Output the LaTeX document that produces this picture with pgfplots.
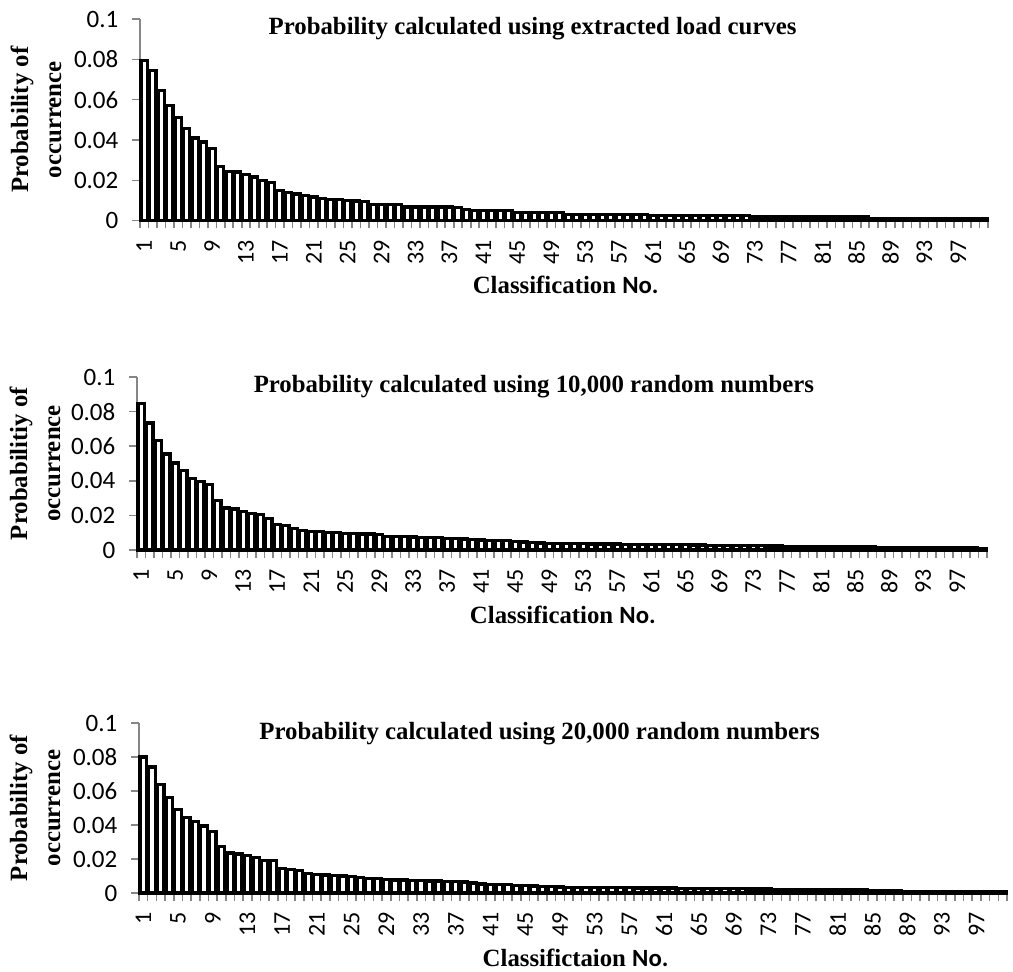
\documentclass[border=0pt]{standalone}
\usepackage{fontspec}
\setmainfont{Carlito}
\newfontfamily\tnr{Liberation Serif}
\usepackage{pgfplots}
\pgfplotsset{compat=1.18}
\definecolor{axgray}{RGB}{134,134,134}
\pgfplotsset{
  probstyle/.style={
    scale only axis,
    xmin=0.5, xmax=100.5, ymin=0, ymax=0.1,
    axis x line*=bottom, axis y line*=left,
    axis line style={draw=axgray, line width=1.1pt},
    ytick={0,0.02,0.04,0.06,0.08,0.1},
    yticklabels={0,0.02,0.04,0.06,0.08,0.1},
    xtick={0.5,1.5,...,100.5}, xticklabels={},
    extra x ticks={1,5,9,13,17,21,25,29,33,37,41,45,49,53,57,61,65,69,73,77,81,85,89,93,97},
    extra x tick labels={1,5,9,13,17,21,25,29,33,37,41,45,49,53,57,61,65,69,73,77,81,85,89,93,97},
    extra x tick style={tick style={draw=none}},
    tick align=outside,
    tick style={draw=axgray, line width=0.8pt},
    major tick length=3.8pt,
    yticklabel style={font=\fontsize{12.5}{14}\selectfont, xshift=-3.5pt},
    xticklabel style={font=\fontsize{12}{13}\selectfont, yshift=-2.5pt, rotate=90, anchor=east},
    ybar, bar width=0.75, clip=false,
    ylabel style={font=\tnr\bfseries\fontsize{12.4}{16.5}\selectfont, align=center, anchor=center},
    xlabel style={font=\bfseries\fontsize{12.4}{14}\selectfont, anchor=center},
    title style={font=\tnr\bfseries\fontsize{12.4}{14}\selectfont, anchor=center, yshift=-7pt},
  },
  probbar/.style={fill=white, draw=black, line width=1.65pt},
}
\begin{document}
\begin{tikzpicture}
\useasboundingbox (0,0) rectangle (506.5pt,485.5pt);
% ---------------- Chart 1
\begin{axis}[probstyle,
  at={(70pt,375.15pt)}, anchor=south west, width=424pt, height=100.85pt,
  title={Probability calculated using extracted load curves},
  title style={at={(axis description cs:0.463,0.96)}},
  ylabel={Probability of\\occurrence},
  ylabel style={at={(axis description cs:-0.1226,0.5)}},
  xlabel={{\tnr Classification }No.},
  xlabel style={at={(axis description cs:0.502,-0.319)}},
]
\addplot[probbar] coordinates {
(1,0.0793) (2,0.0745) (3,0.0645) (4,0.0570) (5,0.0512) (6,0.0456) (7,0.0410) (8,0.0390) (9,0.0358) (10,0.0267)
(11,0.0244) (12,0.0241) (13,0.0230) (14,0.0216) (15,0.0200) (16,0.0190) (17,0.0150) (18,0.0141) (19,0.0133) (20,0.0125)
(21,0.0117) (22,0.0110) (23,0.0106) (24,0.0106) (25,0.0099) (26,0.0098) (27,0.0095) (28,0.0082) (29,0.0080) (30,0.0080)
(31,0.0079) (32,0.0068) (33,0.0068) (34,0.0068) (35,0.0068) (36,0.0068) (37,0.0068) (38,0.0067) (39,0.0056) (40,0.0051)
(41,0.0051) (42,0.0051) (43,0.0051) (44,0.0050) (45,0.0040) (46,0.0040) (47,0.0040) (48,0.0040) (49,0.0040) (50,0.0040)
(51,0.0031) (52,0.0031) (53,0.0031) (54,0.0031) (55,0.0031) (56,0.0031) (57,0.0031) (58,0.0031) (59,0.0031) (60,0.0031)
(61,0.0026) (62,0.0026) (63,0.0026) (64,0.0026) (65,0.0026) (66,0.0026) (67,0.0026) (68,0.0026) (69,0.0026) (70,0.0026)
(71,0.0026) (72,0.0026) (73,0.0019) (74,0.0019) (75,0.0019) (76,0.0019) (77,0.0019) (78,0.0019) (79,0.0019) (80,0.0019)
(81,0.0019) (82,0.0019) (83,0.0019) (84,0.0019) (85,0.0019) (86,0.0019) (87,0.0011) (88,0.0011) (89,0.0011) (90,0.0011)
(91,0.0011) (92,0.0011) (93,0.0011) (94,0.0011) (95,0.0011) (96,0.0011) (97,0.0011) (98,0.0011) (99,0.0011) (100,0.0011)
};
\end{axis}
% ---------------- Chart 2
\begin{axis}[probstyle,
  at={(68.5pt,210.5pt)}, anchor=south west, width=425pt, height=86.5pt,
  title={Probability calculated using 10,000 random numbers},
  title style={at={(axis description cs:0.467,0.954)}},
  ylabel={Probabilitiy of\\occurrence},
  ylabel style={at={(axis description cs:-0.12,0.5)}},
  xlabel={{\tnr Classification }No.},
  xlabel style={at={(axis description cs:0.501,-0.376)}},
]
\addplot[probbar] coordinates {
(1,0.0848) (2,0.0734) (3,0.0634) (4,0.0555) (5,0.0503) (6,0.0459) (7,0.0412) (8,0.0397) (9,0.0378) (10,0.0285)
(11,0.0242) (12,0.0237) (13,0.0223) (14,0.0211) (15,0.0204) (16,0.0182) (17,0.0146) (18,0.0142) (19,0.0123) (20,0.0113)
(21,0.0107) (22,0.0105) (23,0.0102) (24,0.0100) (25,0.0096) (26,0.0094) (27,0.0093) (28,0.0092) (29,0.0088) (30,0.0079)
(31,0.0078) (32,0.0077) (33,0.0076) (34,0.0073) (35,0.0072) (36,0.0071) (37,0.0066) (38,0.0065) (39,0.0063) (40,0.0061)
(41,0.0057) (42,0.0056) (43,0.0055) (44,0.0053) (45,0.0049) (46,0.0047) (47,0.0045) (48,0.0041) (49,0.0039) (50,0.0038)
(51,0.0037) (52,0.0036) (53,0.0036) (54,0.0035) (55,0.0035) (56,0.0034) (57,0.0034) (58,0.0033) (59,0.0033) (60,0.0033)
(61,0.0032) (62,0.0032) (63,0.0031) (64,0.0031) (65,0.0030) (66,0.0029) (67,0.0029) (68,0.0028) (69,0.0027) (70,0.0027)
(71,0.0026) (72,0.0025) (73,0.0024) (74,0.0024) (75,0.0023) (76,0.0023) (77,0.0022) (78,0.0022) (79,0.0021) (80,0.0021)
(81,0.0020) (82,0.0020) (83,0.0019) (84,0.0019) (85,0.0018) (86,0.0018) (87,0.0017) (88,0.0016) (89,0.0016) (90,0.0015)
(91,0.0015) (92,0.0014) (93,0.0014) (94,0.0013) (95,0.0013) (96,0.0012) (97,0.0012) (98,0.0011) (99,0.0011) (100,0.0010)
};
\end{axis}
% ---------------- Chart 3
\begin{axis}[probstyle,
  at={(69.5pt,39pt)}, anchor=south west, width=434pt, height=85pt,
  title={Probability calculated using 20,000 random numbers},
  title style={at={(axis description cs:0.4616,0.949)}},
  ylabel={Probability of\\occurrence},
  ylabel style={at={(axis description cs:-0.1198,0.5)}},
  xlabel={{\tnr Classifictaion }No.},
  xlabel style={at={(axis description cs:0.503,-0.382)}},
]
\addplot[probbar] coordinates {
(1,0.0800) (2,0.0741) (3,0.0637) (4,0.0562) (5,0.0493) (6,0.0444) (7,0.0420) (8,0.0395) (9,0.0362) (10,0.0273)
(11,0.0235) (12,0.0229) (13,0.0219) (14,0.0209) (15,0.0192) (16,0.0192) (17,0.0145) (18,0.0139) (19,0.0133) (20,0.0113)
(21,0.0110) (22,0.0106) (23,0.0103) (24,0.0100) (25,0.0096) (26,0.0090) (27,0.0086) (28,0.0084) (29,0.0080) (30,0.0076)
(31,0.0076) (32,0.0075) (33,0.0072) (34,0.0071) (35,0.0070) (36,0.0069) (37,0.0066) (38,0.0065) (39,0.0058) (40,0.0053)
(41,0.0052) (42,0.0050) (43,0.0048) (44,0.0046) (45,0.0043) (46,0.0041) (47,0.0039) (48,0.0037) (49,0.0035) (50,0.0034)
(51,0.0033) (52,0.0033) (53,0.0032) (54,0.0032) (55,0.0031) (56,0.0031) (57,0.0031) (58,0.0030) (59,0.0030) (60,0.0030)
(61,0.0029) (62,0.0029) (63,0.0028) (64,0.0028) (65,0.0027) (66,0.0027) (67,0.0026) (68,0.0026) (69,0.0025) (70,0.0025)
(71,0.0024) (72,0.0024) (73,0.0023) (74,0.0022) (75,0.0022) (76,0.0021) (77,0.0021) (78,0.0020) (79,0.0020) (80,0.0019)
(81,0.0019) (82,0.0018) (83,0.0018) (84,0.0017) (85,0.0016) (86,0.0014) (87,0.0012) (88,0.0011) (89,0.0010) (90,0.0010)
(91,0.0010) (92,0.0010) (93,0.0010) (94,0.0010) (95,0.0010) (96,0.0010) (97,0.0010) (98,0.0010) (99,0.0010) (100,0.0010)
};
\end{axis}
\end{tikzpicture}
\end{document}
